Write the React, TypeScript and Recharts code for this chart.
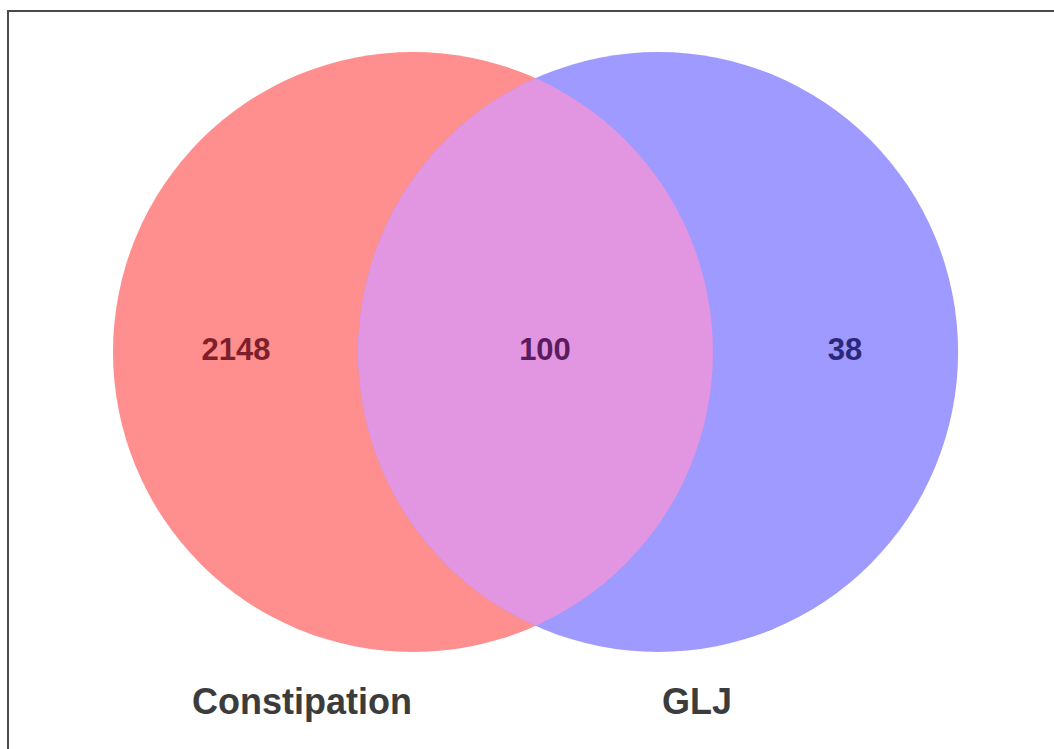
import { Scatter, ScatterChart, XAxis, YAxis } from "recharts"

// Venn counts: only Constipation, both, only GLJ
const setNames = ["Constipation", "GLJ"]
const regionCounts = [2148, 100, 38]

const setFills = ["#FF8E8E", "#9E9AFF"]
const overlapFill = "#E295E0"
const countColors = ["#7E1F2C", "#5A1C5E", "#2B287C"]

// layout in venn units (circle radius = 1)
const RADIUS = 1
const centreX = [0, 0.817]
const regionLabelX = [-0.59, 0.44, 1.44]
const setLabelX = [-0.37, 0.947]
const SET_LABEL_Y = -1.205

const W = 1054
const H = 749
const PX_PER_UNIT = 300
const X_DOMAIN: [number, number] = [-413 / PX_PER_UNIT, (W - 413) / PX_PER_UNIT]
const Y_DOMAIN: [number, number] = [(352 - H) / PX_PER_UNIT, 352 / PX_PER_UNIT]

const circles = setNames.map((name, i) => ({ name, x: centreX[i], y: 0, r: RADIUS, fill: setFills[i] }))
const overlap = [{ x: centreX[0], y: 0, r: RADIUS, clipX: centreX[1], clipY: 0 }]
const counts = regionCounts.map((value, i) => ({ x: regionLabelX[i], y: 0.01, value, color: countColors[i] }))
const setLabels = setNames.map((name, i) => ({ x: setLabelX[i], y: SET_LABEL_Y, name }))

const font = "'Liberation Sans', Arial, sans-serif"

const CircleShape = (props: any) => {
  const { cx, cy, payload } = props
  return <circle cx={cx} cy={cy} r={payload.r * PX_PER_UNIT} fill={payload.fill} />
}

const OverlapShape = (props: any) => {
  const { cx, cy, payload } = props
  const ox = cx + (payload.clipX - payload.x) * PX_PER_UNIT
  const oy = cy - (payload.clipY - payload.y) * PX_PER_UNIT
  return (
    <g>
      <defs>
        <clipPath id="venn-overlap">
          <circle cx={ox} cy={oy} r={payload.r * PX_PER_UNIT} />
        </clipPath>
      </defs>
      <circle cx={cx} cy={cy} r={payload.r * PX_PER_UNIT} fill={overlapFill} clipPath="url(#venn-overlap)" />
    </g>
  )
}

const CountShape = (props: any) => {
  const { cx, cy, payload } = props
  return (
    <text x={cx} y={cy} textAnchor="middle" dominantBaseline="central"
      fontFamily={font} fontSize={31} fontWeight="bold" fill={payload.color}>
      {payload.value}
    </text>
  )
}

const SetLabelShape = (props: any) => {
  const { cx, cy, payload } = props
  return (
    <text x={cx} y={cy} textAnchor="middle" fontFamily={font} fontSize={36} fontWeight="bold" fill="#3c3c3c">
      {payload.name}
    </text>
  )
}

export default function App() {
  return (
    <div style={{ position: "absolute", left: 0, top: 0, width: W, height: H, background: "#fff" }}>
      <div style={{
        position: "absolute", left: 7, top: 10, right: 0, bottom: 0,
        borderTop: "2px solid #4a4a4a", borderLeft: "2px solid #4a4a4a",
      }} />
      <div style={{ position: "absolute", left: 0, top: 0 }}>
        <ScatterChart width={W} height={H} margin={{ top: 0, right: 0, bottom: 0, left: 0 }}>
          <XAxis type="number" dataKey="x" domain={X_DOMAIN} hide allowDataOverflow />
          <YAxis type="number" dataKey="y" domain={Y_DOMAIN} hide allowDataOverflow />
          <Scatter data={circles} shape={CircleShape} isAnimationActive={false} />
          <Scatter data={overlap} shape={OverlapShape} isAnimationActive={false} />
          <Scatter data={counts} shape={CountShape} isAnimationActive={false} />
          <Scatter data={setLabels} shape={SetLabelShape} isAnimationActive={false} />
        </ScatterChart>
      </div>
    </div>
  )
}
